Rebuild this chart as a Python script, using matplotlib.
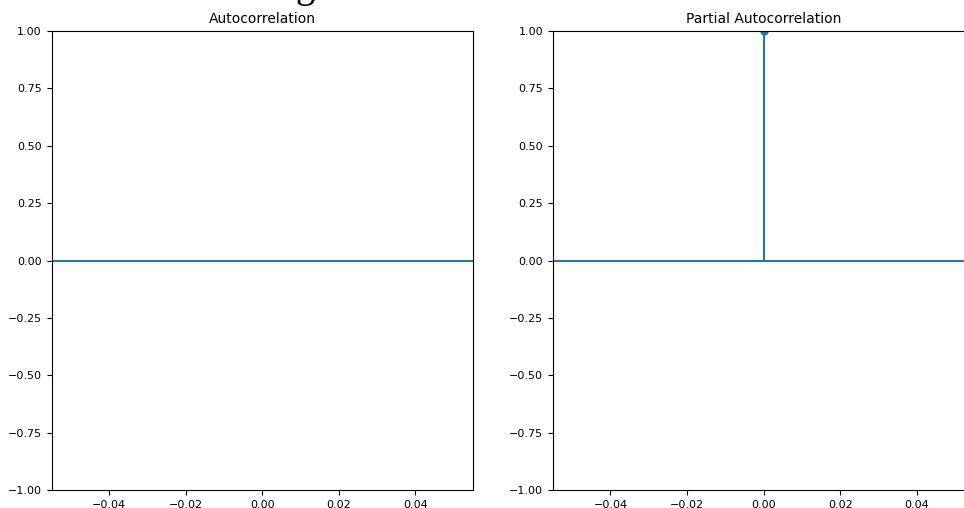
import numpy as np
import matplotlib
matplotlib.use('Agg')
import matplotlib.pyplot as plt

# values
acf_lags = [0]
acf_vals = [np.nan]     # nothing drawn on the left panel
pacf_lags = [0]
pacf_vals = [1.0]
titles = ['Autocorrelation', 'Partial Autocorrelation']
yticks = [-1.0, -0.75, -0.5, -0.25, 0.0, 0.25, 0.5, 0.75, 1.0]
xticks = [-0.04, -0.02, 0.0, 0.02, 0.04]


def corr_plot(ax, lags, vals, title):
    ax.vlines(lags, [0], vals, colors='C0')
    ax.plot(lags, vals, 'o', color='C0', markersize=5)
    ax.axhline(0, color='C0')
    ax.set_xlim(-0.055, 0.055)
    ax.set_ylim(-1, 1)
    ax.set_xticks(xticks)
    ax.set_yticks(yticks)
    ax.tick_params(labelsize=8)
    ax.set_title(title, fontsize=10)


fig = plt.figure(figsize=(9.64, 5.08), dpi=100)
ax1 = fig.add_axes([0.0536, 0.0354, 0.437, 0.9035])
ax2 = fig.add_axes([0.5737, 0.0354, 0.437, 0.9035])

corr_plot(ax1, acf_lags, acf_vals, titles[0])
corr_plot(ax2, pacf_lags, pacf_vals, titles[1])

# bit of a heading cut off at the top of the screenshot
fig.text(305 / 964, 1 + 2.5 / 508, 'g', family='Liberation Serif',
         fontsize=28, ha='center', va='baseline')

fig.savefig('out.png', dpi=100)
